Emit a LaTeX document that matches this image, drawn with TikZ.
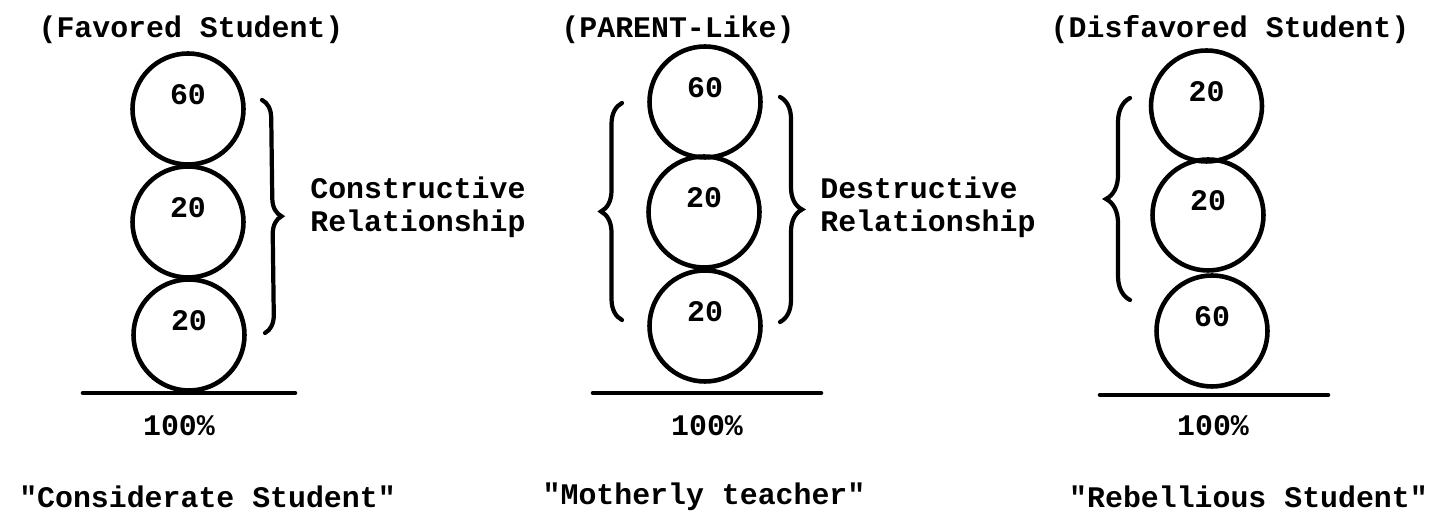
\documentclass[tikz,border=0pt]{standalone}
\usepackage{fontspec}
\setmonofont{Liberation Mono}
\usepackage{tikz}
\usetikzlibrary{decorations.pathreplacing}
\tikzset{
    ball/.style={circle, draw=black, line width=2.6pt, minimum size=2.22cm, inner sep=0pt, text height=0.35cm, text depth=0.52cm, font=\ttfamily\bfseries\fontsize{17}{19}\selectfont},
    caption/.style={inner sep=0pt, font=\ttfamily\bfseries\fontsize{17}{19}\selectfont},
    ground/.style={line width=2.6pt, line cap=round},
    bracket/.style={decorate, decoration={brace, amplitude=#1}, line width=2.4pt, line cap=round}
}

\begin{document}
\begin{tikzpicture}
    \useasboundingbox (0,0) rectangle (28.76,10.26);

    % Favored student column
    \node[caption] (favTitle) at (3.82,9.66) {(Favored Student)};
    \node[ball] (fav1) at (3.76,8.08) {60};
    \node[ball] (fav2) at (3.76,5.82) {20};
    \node[ball] (fav3) at (3.78,3.56) {20};
    \coordinate (favL) at (1.66,2.40);
    \coordinate (favR) at (5.90,2.40);
    \draw[ground] (favL) -- (favR);
    \node[caption] (favPct) at (3.58,1.74) {100\%};
    \node[caption] (favName) at (4.15,0.32) {"Considerate Student"};

    % Parent-like column
    \node[caption] (parTitle) at (13.56,9.66) {(PARENT-Like)};
    \node[ball] (par1) at (14.10,8.22) {60};
    \node[ball] (par2) at (14.08,6.02) {20};
    \node[ball] (par3) at (14.10,3.74) {20};
    \coordinate (parL) at (11.86,2.40);
    \coordinate (parR) at (16.42,2.40);
    \draw[ground] (parL) -- (parR);
    \node[caption] (parPct) at (14.14,1.74) {100\%};
    \node[caption] (parName) at (14.08,0.32) {"Motherly teacher"};

    % Disfavored student column
    \node[caption] (disTitle) at (24.60,9.66) {(Disfavored Student)};
    \node[ball] (dis1) at (24.13,8.14) {20};
    \node[ball] (dis2) at (24.16,5.96) {20};
    \node[ball] (dis3) at (24.24,3.64) {60};
    \coordinate (disL) at (22.00,2.36);
    \coordinate (disR) at (26.56,2.36);
    \draw[ground] (disL) -- (disR);
    \node[caption] (disPct) at (24.26,1.74) {100\%};
    \node[caption] (disName) at (24.97,0.32) {"Rebellious Student"};

    % Braces
    \coordinate (conTop) at (5.24,8.26);
    \coordinate (conBot) at (5.30,3.60);
    \draw[bracket=0.36cm] (conTop) -- (conBot);
    \coordinate (parLTop) at (12.44,8.20);
    \coordinate (parLBot) at (12.44,3.86);
    \draw[bracket=0.42cm] (parLBot) -- (parLTop);
    \coordinate (parRTop) at (15.60,8.32);
    \coordinate (parRBot) at (15.60,3.82);
    \draw[bracket=0.44cm] (parRTop) -- (parRBot);
    \coordinate (disTop) at (22.60,8.30);
    \coordinate (disBot) at (22.60,4.26);
    \draw[bracket=0.48cm] (disBot) -- (disTop);

    % Relationship labels
    \node[caption, align=left, anchor=west] (conRel) at (6.20,6.12) {Constructive\\Relationship};
    \node[caption, align=left, anchor=west] (desRel) at (16.40,6.12) {Destructive\\Relationship};
\end{tikzpicture}
\end{document}
